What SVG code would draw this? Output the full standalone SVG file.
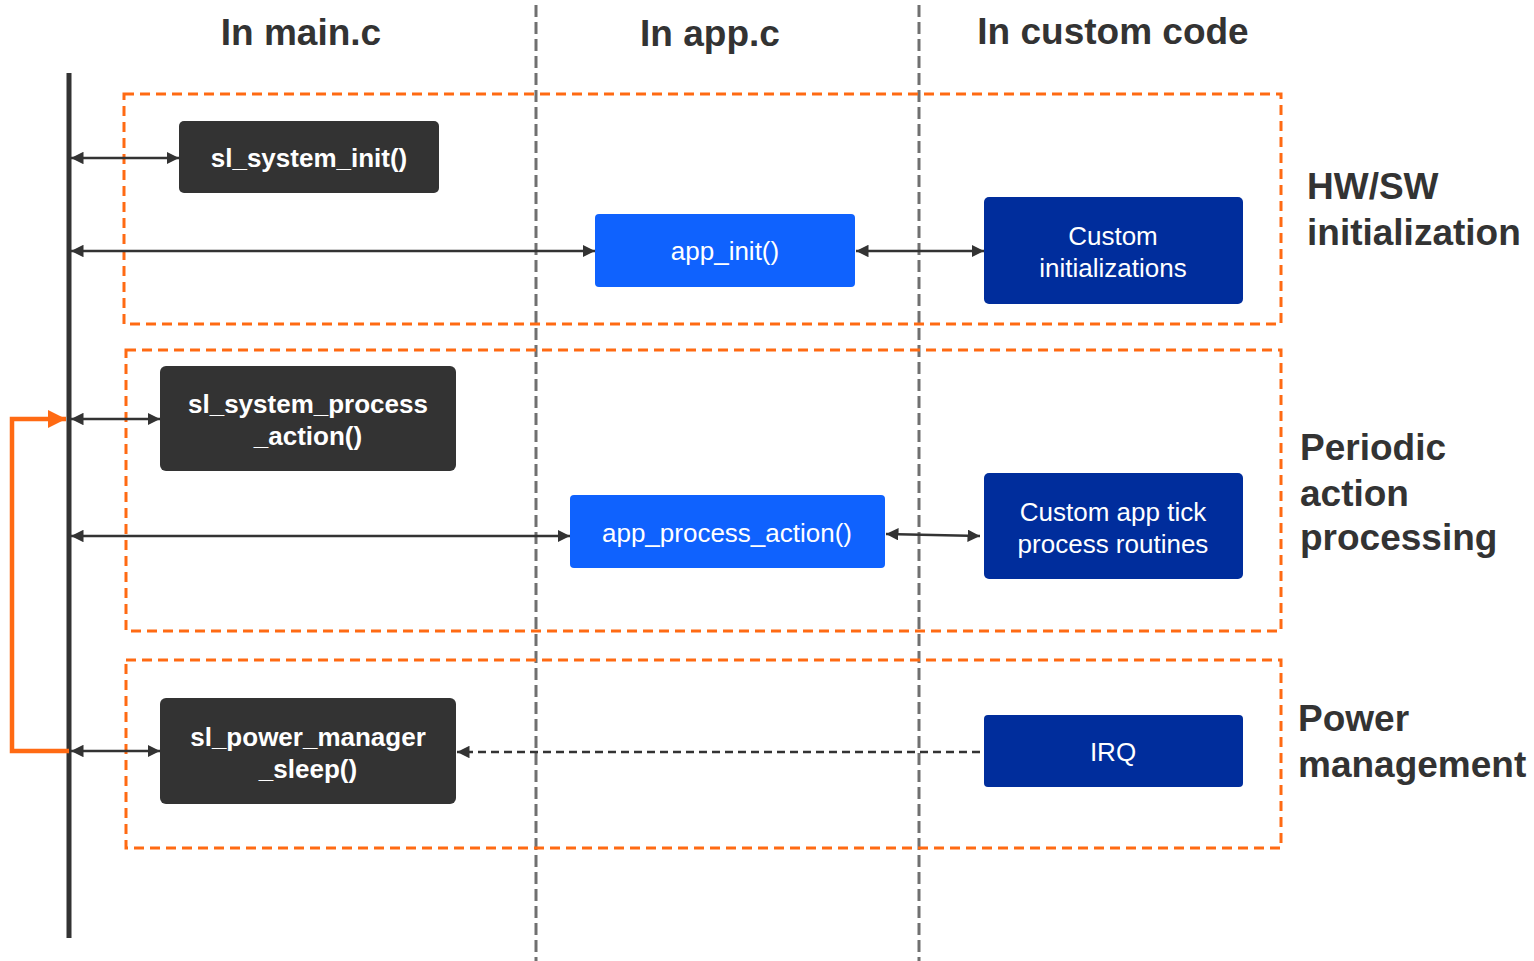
<svg xmlns="http://www.w3.org/2000/svg" width="1534" height="961" viewBox="0 0 1534 961">
<style>
.bg{fill:#ffffff}
.grp{fill:none;stroke:#FF6A13;stroke-width:3;stroke-dasharray:10 6}
.col{fill:none;stroke:#707070;stroke-width:3;stroke-dasharray:12 5}
.dark{fill:#333333}
.blue{fill:#0F62FE}
.navy{fill:#002D9C}
.t{font-family:"Liberation Sans",Arial,sans-serif;fill:#ffffff;text-anchor:middle;font-size:26px}
.tb{font-weight:bold}
.hd{font-family:"Liberation Sans",Arial,sans-serif;fill:#333333;font-weight:bold;font-size:37px}
.c{fill:none;stroke:#333333;stroke-width:2.5}
.d{stroke-dasharray:8 5}
</style>
<defs>
<marker id="ah" viewBox="0 0 10 10" refX="10" refY="5" markerWidth="5" markerHeight="5" orient="auto-start-reverse" markerUnits="strokeWidth">
<path d="M0,0 L10,5 L0,10 z" fill="#333333"/>
</marker>
<marker id="oa" viewBox="0 0 10 10" refX="10" refY="5" markerWidth="4" markerHeight="4" orient="auto" markerUnits="strokeWidth">
<path d="M0,0 L10,5 L0,10 z" fill="#FF6A13"/>
</marker>
</defs>
<rect class="bg" width="1534" height="961"/>
<g id="columns">
<line class="col" x1="536" y1="5" x2="536" y2="961"/>
<line class="col" x1="919" y1="5" x2="919" y2="961"/>
<text class="hd" x="301" y="45" text-anchor="middle">In main.c</text>
<text class="hd" x="710" y="46" text-anchor="middle">In app.c</text>
<text class="hd" x="1113" y="44" text-anchor="middle">In custom code</text>
</g>
<g id="groups">
<rect class="grp" x="124" y="94" width="1157" height="230"/>
<rect class="grp" x="126" y="350" width="1155" height="281"/>
<rect class="grp" x="126" y="660" width="1155" height="188"/>
<text class="hd" x="1307" y="199">HW/SW</text>
<text class="hd" x="1307" y="245">initialization</text>
<text class="hd" x="1300" y="460">Periodic</text>
<text class="hd" x="1300" y="506">action</text>
<text class="hd" x="1300" y="550">processing</text>
<text class="hd" x="1298" y="731">Power</text>
<text class="hd" x="1298" y="777">management</text>
</g>
<g id="timeline">
<line x1="69" y1="73" x2="69" y2="938" stroke="#333333" stroke-width="5"/>
</g>
<g id="connectors">
<path d="M69,751 H12 V419 H66" fill="none" stroke="#FF6A13" stroke-width="4.5" marker-end="url(#oa)"/>
<line class="c" x1="71" y1="158" x2="179" y2="158" marker-start="url(#ah)" marker-end="url(#ah)"/>
<line class="c" x1="71" y1="251" x2="595" y2="251" marker-start="url(#ah)" marker-end="url(#ah)"/>
<line class="c" x1="856" y1="251" x2="984" y2="251" marker-start="url(#ah)" marker-end="url(#ah)"/>
<line class="c" x1="71" y1="419" x2="160" y2="419" marker-start="url(#ah)" marker-end="url(#ah)"/>
<line class="c" x1="71" y1="536" x2="570" y2="536" marker-start="url(#ah)" marker-end="url(#ah)"/>
<line class="c" x1="886" y1="534" x2="980" y2="536" marker-start="url(#ah)" marker-end="url(#ah)"/>
<line class="c" x1="71" y1="751" x2="160" y2="751" marker-start="url(#ah)" marker-end="url(#ah)"/>
<line class="c d" x1="980" y1="752" x2="457" y2="752" marker-end="url(#ah)"/>
</g>
<g id="sl_system_init">
<rect class="dark" x="179" y="121" width="260" height="72" rx="5"/>
<text class="t tb" x="309" y="167">sl_system_init()</text>
</g>
<g id="app_init">
<rect class="blue" x="595" y="214" width="260" height="73" rx="4"/>
<text class="t" x="725" y="260">app_init()</text>
</g>
<g id="custom_init">
<rect class="navy" x="984" y="197" width="259" height="107" rx="5"/>
<text class="t" x="1113" y="245">Custom</text>
<text class="t" x="1113" y="277">initializations</text>
</g>
<g id="sl_system_process_action">
<rect class="dark" x="160" y="366" width="296" height="105" rx="6"/>
<text class="t tb" x="308" y="413">sl_system_process</text>
<text class="t tb" x="308" y="445">_action()</text>
</g>
<g id="app_process_action">
<rect class="blue" x="570" y="495" width="315" height="73" rx="4"/>
<text class="t" x="727" y="542">app_process_action()</text>
</g>
<g id="custom_tick">
<rect class="navy" x="984" y="473" width="259" height="106" rx="5"/>
<text class="t" x="1113" y="521">Custom app tick</text>
<text class="t" x="1113" y="553">process routines</text>
</g>
<g id="sl_power_manager_sleep">
<rect class="dark" x="160" y="698" width="296" height="106" rx="6"/>
<text class="t tb" x="308" y="746">sl_power_manager</text>
<text class="t tb" x="308" y="778">_sleep()</text>
</g>
<g id="irq">
<rect class="navy" x="984" y="715" width="259" height="72" rx="4"/>
<text class="t" x="1113" y="761">IRQ</text>
</g>
</svg>
